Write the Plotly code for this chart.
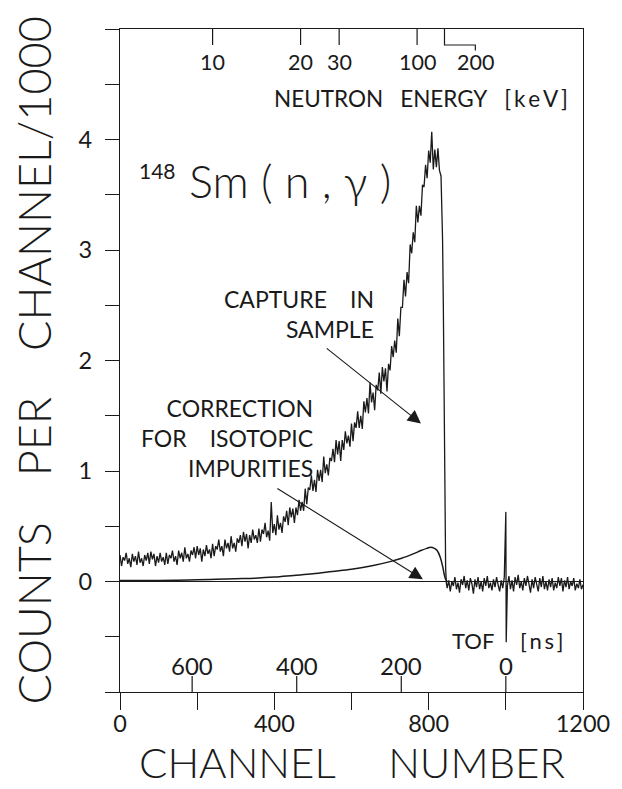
import plotly.graph_objects as go

# ---------------- data ----------------
# capture in sample: counts/1000 every 4 channels (0..836), then the cut-off edge
SAMPLE_CH = list(range(0, 840, 4)) + [838, 840, 842, 844, 846]
SAMPLE_COUNTS = [
    0.24, 0.14, 0.22, 0.19, 0.26, 0.16, 0.21, 0.13, 0.25, 0.18,
    0.23, 0.15, 0.27, 0.17, 0.21, 0.14, 0.24, 0.19, 0.26, 0.16,
    0.27, 0.20, 0.25, 0.14, 0.23, 0.17, 0.26, 0.18, 0.22, 0.15,
    0.26, 0.16, 0.24, 0.21, 0.28, 0.18, 0.23, 0.15, 0.28, 0.21,
    0.26, 0.18, 0.31, 0.21, 0.25, 0.18, 0.28, 0.24, 0.31, 0.21,
    0.32, 0.24, 0.30, 0.18, 0.29, 0.23, 0.33, 0.25, 0.29, 0.21,
    0.34, 0.23, 0.32, 0.29, 0.38, 0.27, 0.32, 0.23, 0.38, 0.30,
    0.35, 0.27, 0.41, 0.30, 0.35, 0.27, 0.39, 0.35, 0.42, 0.32,
    0.45, 0.36, 0.43, 0.30, 0.42, 0.35, 0.47, 0.38, 0.42, 0.35,
    0.48, 0.36, 0.47, 0.43, 0.53, 0.40, 0.46, 0.37, 0.72, 0.44,
    0.52, 0.42, 0.60, 0.47, 0.53, 0.44, 0.59, 0.54, 0.64, 0.51,
    0.67, 0.58, 0.66, 0.53, 0.67, 0.60, 0.74, 0.64, 0.72, 0.64,
    0.84, 0.70, 0.85, 0.83, 0.96, 0.82, 0.92, 0.81, 1.01, 0.91,
    1.01, 0.90, 1.13, 0.98, 1.06, 0.96, 1.12, 1.09, 1.20, 1.08,
    1.28, 1.15, 1.27, 1.09, 1.28, 1.19, 1.36, 1.25, 1.32, 1.22,
    1.43, 1.27, 1.44, 1.39, 1.54, 1.39, 1.50, 1.38, 1.63, 1.53,
    1.66, 1.52, 1.80, 1.62, 1.71, 1.55, 1.78, 1.73, 1.89, 1.70,
    1.94, 1.81, 1.93, 1.72, 1.97, 1.91, 2.13, 2.03, 2.18, 2.07,
    2.38, 2.22, 2.48, 2.48, 2.73, 2.58, 2.80, 2.70, 3.05, 2.97,
    3.16, 3.07, 3.40, 3.25, 3.40, 3.31, 3.59, 3.57, 3.77, 3.65,
    3.90, 3.79, 4.07, 3.73, 3.91, 3.75, 3.92, 3.72, 3.67, 3.10,
    2.50, 1.40, 0.55, 0.12, -0.02,
]

# region after the cut-off (background + gamma flash at TOF = 0)
TAIL_CH = list(range(848, 1000, 4)) + [1000, 1001] + list(range(1004, 1201, 4))
TAIL_COUNTS = [
    -0.06, 0.01, -0.09, 0.00, -0.04, 0.04, -0.07, -0.01, -0.10, 0.02,
    -0.03, 0.05, -0.06, 0.01, -0.08, 0.03, -0.02, -0.11, 0.02, -0.05,
    0.04, -0.07, 0.00, -0.09, 0.03, -0.04, 0.05, -0.06, -0.01, -0.08,
    0.02, -0.05, 0.04, -0.03, -0.09, 0.01, -0.06, 0.04,
    0.63, -0.55,
    -0.04, 0.05, -0.07, 0.01, -0.09, 0.04, -0.03, 0.06, -0.06, 0.00,
    -0.08, 0.03, -0.04, 0.05, -0.02, -0.10, 0.02, -0.06, 0.04, -0.03,
    -0.09, 0.03, -0.05, 0.05, -0.07, 0.00, -0.08, 0.02, -0.05, 0.03,
    -0.08, -0.01, -0.06, 0.04, -0.04, 0.03, -0.09, 0.01, -0.05, 0.04,
    -0.07, 0.00, -0.04, 0.03, -0.08, -0.02, -0.06, 0.02, -0.07, -0.03,
]

# correction for isotopic impurities
CORR_CH = [0, 50, 100, 150, 200, 250, 300, 350, 400, 450, 500, 550, 600, 650,
           700, 730, 760, 780, 795, 805, 815, 822, 830, 836, 840, 844, 848]
CORR_COUNTS = [0.01, 0.01, 0.01, 0.012, 0.015, 0.02, 0.025, 0.03, 0.04, 0.055,
               0.07, 0.09, 0.11, 0.14, 0.18, 0.21, 0.25, 0.28, 0.30, 0.31,
               0.30, 0.28, 0.22, 0.14, 0.07, 0.02, 0.0]

# axis tick data
X_TICKS = [0, 200, 400, 600, 800, 1000, 1200]
X_TICKTEXT = ["0", "", "400", "", "800", "", "1200"]
Y_TICKS = [-1, -0.5, 0, 0.5, 1, 1.5, 2, 2.5, 3, 3.5, 4, 4.5, 5]
Y_TICKTEXT = ["", "", "0", "", "1", "", "2", "", "3", "", "4", "", ""]

ENERGY_LABELS = ["10", "20", "30", "100", "200"]      # keV
ENERGY_TICK_CH = [240, 468, 568, 770, 841]            # channel of tick
ENERGY_LABEL_CH = [240, 468, 568, 770, 921]           # channel of label

TOF_NS = [600, 400, 200, 0]
TOF_ZERO_CH = 1000
NS_PER_CH = 0.738

FONT = "Lato, 'Open Sans', sans-serif"
INK = "#1a1a1a"
EN = "\u2002"
TH = "\u2009"


def fnt(size, weight=400):
    return dict(family=FONT, size=size, color=INK, weight=weight)


fig = go.Figure()
fig.add_trace(go.Scatter(x=SAMPLE_CH + TAIL_CH, y=SAMPLE_COUNTS + TAIL_COUNTS,
                         mode="lines", line=dict(color=INK, width=1.3),
                         showlegend=False, hoverinfo="skip"))
fig.add_trace(go.Scatter(x=CORR_CH, y=CORR_COUNTS, mode="lines",
                         line=dict(color=INK, width=1.5, shape="spline"),
                         showlegend=False, hoverinfo="skip"))

YMIN, YMAX = -1, 5
PX_PER_Y = 663 / 6.0
tick_dy = 16 / PX_PER_Y

shapes = []
annotations = []

# energy ticks along the top
for lab, tch, lch in zip(ENERGY_LABELS, ENERGY_TICK_CH, ENERGY_LABEL_CH):
    if tch == lch:
        shapes.append(dict(type="line", xref="x", yref="y", x0=tch, x1=tch,
                           y0=YMAX, y1=YMAX - tick_dy, line=dict(color=INK, width=1.2)))
    else:
        path = (f"M {tch} {YMAX} L {tch} {YMAX - tick_dy} "
                f"L {lch} {YMAX - tick_dy} L {lch} {YMAX - tick_dy - 0.05}")
        shapes.append(dict(type="path", xref="x", yref="y", path=path,
                           line=dict(color=INK, width=1.2)))
    annotations.append(dict(x=lch, y=4.70, xref="x", yref="y", text=lab,
                            showarrow=False, font=fnt(21.5),
                            xanchor="center", yanchor="middle"))
annotations.append(dict(x=1167, y=4.37, xref="x", yref="y",
                        text=f"NEUTRON{EN} ENERGY{EN} [{TH}k{TH}e{TH}V{TH}]",
                        showarrow=False, font=fnt(22.5),
                        xanchor="right", yanchor="middle"))

# TOF ticks along the bottom (inside)
for t in TOF_NS:
    ch = TOF_ZERO_CH - t / NS_PER_CH
    shapes.append(dict(type="line", xref="x", yref="y", x0=ch, x1=ch,
                       y0=YMIN, y1=YMIN + tick_dy, line=dict(color=INK, width=1.2)))
    annotations.append(dict(x=ch, y=-0.76, xref="x", yref="y", text=str(t),
                            showarrow=False, font=fnt(24),
                            xanchor="center", yanchor="middle"))
annotations.append(dict(x=974, y=-0.53, xref="x", yref="y", text="TOF",
                        showarrow=False, font=fnt(22),
                        xanchor="right", yanchor="middle"))
annotations.append(dict(x=1031, y=-0.53, xref="x", yref="y",
                        text=f"[{TH}n{TH}s{TH}]",
                        showarrow=False, font=fnt(22),
                        xanchor="left", yanchor="middle"))

# reaction label
annotations.append(dict(x=44, y=3.72, xref="x", yref="y", text="148",
                        showarrow=False, font=fnt(21),
                        xanchor="left", yanchor="middle"))
annotations.append(dict(x=174, y=3.62, xref="x", yref="y", text="Sm ( n , γ )",
                        showarrow=False, font=fnt(45, 300),
                        xanchor="left", yanchor="middle"))

# labels with arrows
annotations.append(dict(x=664, y=2.42, xref="x", yref="y",
                        text=f"CAPTURE{EN}{EN}IN<br>SAMPLE",
                        showarrow=False, align="right", font=fnt(23),
                        xanchor="right", yanchor="middle"))
annotations.append(dict(x=780, y=1.43, xref="x", yref="y", ax=532, ay=2.12,
                        axref="x", ayref="y", text="", showarrow=True,
                        arrowhead=2, arrowsize=2.4, arrowwidth=1.1, arrowcolor=INK))
annotations.append(dict(x=505, y=1.30, xref="x", yref="y",
                        text=f"CORRECTION<br>FOR{EN}{EN}ISOTOPIC<br>IMPURITIES",
                        showarrow=False, align="right", font=fnt(23),
                        xanchor="right", yanchor="middle"))
annotations.append(dict(x=785, y=0.02, xref="x", yref="y", ax=404, ay=0.85,
                        axref="x", ayref="y", text="", showarrow=True,
                        arrowhead=2, arrowsize=2.4, arrowwidth=1.1, arrowcolor=INK))

# axis titles
annotations.append(dict(x=-0.186, y=0.5, xref="paper", yref="paper",
                        text="COUNTS\u2003 PER\u2003 CHANNEL/1000", textangle=-90,
                        showarrow=False, font=fnt(45, 300),
                        xanchor="center", yanchor="middle"))
annotations.append(dict(x=0.5, y=-0.1056, xref="paper", yref="paper",
                        text="CHANNEL\u2003\u2002NUMBER", showarrow=False,
                        font=fnt(42, 300),
                        xanchor="center", yanchor="middle"))

# the page body adds an 8 px offset, so the figure is 8 px smaller than the window
fig.update_layout(
    width=614, height=781,
    margin=dict(l=112, r=34, t=21, b=97),
    paper_bgcolor="white", plot_bgcolor="white",
    shapes=shapes, annotations=annotations,
    showlegend=False,
)
fig.update_xaxes(range=[0, 1200], tickvals=X_TICKS, ticktext=X_TICKTEXT,
                 ticks="outside", ticklen=17, tickwidth=1.2, tickcolor=INK,
                 showline=True, linecolor=INK, linewidth=1.4, mirror=True,
                 showgrid=False, zeroline=False, ticklabelstandoff=-6,
                 tickfont=fnt(23.5))
fig.update_yaxes(range=[YMIN, YMAX], tickvals=Y_TICKS, ticktext=Y_TICKTEXT,
                 ticks="outside", ticklen=14, tickwidth=1.2, tickcolor=INK,
                 showline=True, linecolor=INK, linewidth=1.4, mirror=True,
                 showgrid=False, zeroline=True, zerolinecolor=INK, zerolinewidth=1.2,
                 ticklabelstandoff=8, tickfont=fnt(23.5))

fig.write_html("out.html")
